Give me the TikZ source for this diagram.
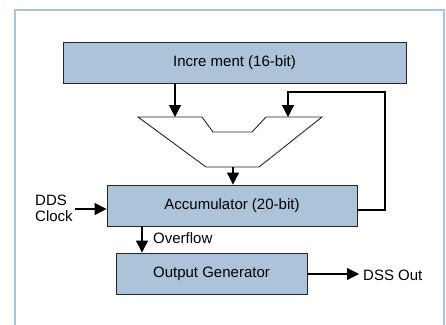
\documentclass[tikz,border=0pt]{standalone}
\usepackage{fontspec}
\setmainfont{Liberation Sans}
\usetikzlibrary{arrows.meta}
\definecolor{boxblue}{HTML}{ADC3D9}
\definecolor{framblue}{HTML}{A9C6DE}
\tikzset{
  blk/.style={draw=black!85, line width=0.9pt, fill=boxblue, inner sep=0pt, font=\fontsize{15}{17}\selectfont},
  con/.style={draw=black, line width=1.1pt, -{Triangle[width=12pt,length=12pt]}},
  lbl/.style={font=\fontsize{15}{16.5}\selectfont, inner sep=0pt}
}
\begin{document}
\begin{tikzpicture}[x=1pt,y=-1pt]
\useasboundingbox (0,0) rectangle (446,324);
\fill[white] (0,0) rectangle (446,324);
\draw[framblue, line width=1.6pt] (15,326) -- (15,10) -- (444,10) -- (444,326);
% blocks
\node[blk, minimum width=343pt, minimum height=41pt] (inc) at (234.5,62.5) {Incre ment (16-bit)};
\node[blk, minimum width=250pt, minimum height=41pt] (acc) at (232,205.5) {Accumulator (20-bit)};
\node[blk, minimum width=191pt, minimum height=41pt] (out) at (211.5,273.5) {Output Generator};
% adder
\draw[black!85, line width=0.9pt, fill=white] (138,117) -- (202,117) -- (213,132) -- (252,132) -- (266,117) -- (322,117) -- (259,167) -- (206,167) -- cycle;
\coordinate (addA) at (175,117);
\coordinate (addB) at (288,117);
\coordinate (addO) at (233,167);
\coordinate (fbR) at (385,92);
\coordinate (clkS) at (75,209);
\coordinate (dssE) at (359,274);
% connectors
\draw[con] (inc.south -| addA) -- (addA);
\draw[con] (acc.east |- 0,210) -| (fbR) -| (addB);
\draw[con] (addO) -- (acc.north -| addO);
\draw[con] (clkS) -- (acc.west |- clkS);
\draw[con] (acc.south -| 142,0) -- (out.north -| 142,0);
\draw[con] (out.east |- dssE) -- (dssE);
% labels
\node[lbl, align=left, anchor=west] (clk) at (35,208.5) {DDS\\Clock};
\node[lbl, anchor=west] (ovf) at (153,238.5) {Overflow};
\node[lbl, anchor=west] (dss) at (363,275) {DSS Out};
\end{tikzpicture}
\end{document}
